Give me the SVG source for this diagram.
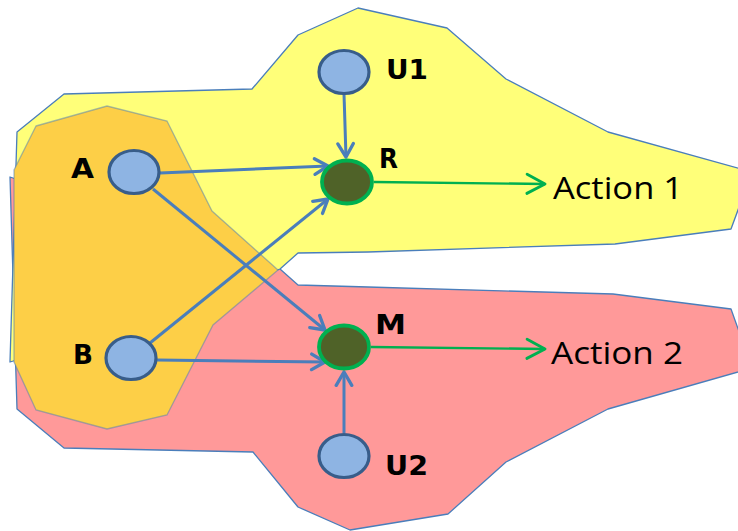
<svg xmlns="http://www.w3.org/2000/svg" width="738" height="531" viewBox="0 0 738 531">
  <style>
    .region { stroke: #4A7EBB; stroke-width: 1.3; stroke-linejoin: round; }
    .var { fill: #8EB4E3; stroke: #385D8A; stroke-width: 3.2; }
    .unit { fill: #4F6228; stroke: #00B050; stroke-width: 3.8; }
    .edge { stroke: #4A7EBB; stroke-width: 3; fill: none; marker-end: url(#headBlue); }
    .out { stroke: #00B050; stroke-width: 2.4; fill: none; marker-end: url(#headGreen); }
    .lbl { font-family: "DejaVu Sans", "Liberation Sans", sans-serif; font-weight: bold; font-size: 26px; fill: #000; }
    .act { font-family: "Open Sans", "DejaVu Sans", sans-serif; font-size: 31px; fill: #000; }
  </style>
  <defs>
    <marker id="headBlue" markerUnits="userSpaceOnUse" markerWidth="20" markerHeight="20" viewBox="-14 -9 16 18" refX="0" refY="0" orient="auto">
      <path d="M-12,-7 L0,0 L-12,7" fill="none" stroke="#4A7EBB" stroke-width="3" stroke-linejoin="round" stroke-linecap="round"/>
    </marker>
    <marker id="headGreen" markerUnits="userSpaceOnUse" markerWidth="24" markerHeight="24" viewBox="-18 -10 20 20" refX="0" refY="0" orient="auto">
      <path d="M-15,-8 L0,0 L-15,8" fill="none" stroke="#00B050" stroke-width="2.4" stroke-linejoin="round" stroke-linecap="round"/>
    </marker>
  </defs>

  <!-- background regions -->
  <g id="regions">
    <polygon id="region-red" class="region" fill="#FF9999" points="17,409 64,448 253,452 298,507 350,530 448,514 506,462 608,409 752,368 731,309 613,294 368,287 298,285 280,269 10,177"/>
    <polygon id="region-yellow" class="region" fill="#FFFF79" points="17,132 64,94 252,89 298,35 358,8 447,28 506,79 608,132 752,172 731,229 615,244 368,252 298,253 280,269 150,320 10,362"/>
    <polygon id="region-orange" fill="#FDCF47" stroke="#4A7EBB" stroke-opacity="0.5" stroke-width="1.3" points="36,126 107,106 167,121 212,211 278,270 213,325 167,415 107,429 36,410 14,362 14,170"/>
  </g>

  <!-- connectors -->
  <g id="connectors">
    <line class="edge" x1="344" y1="94" x2="346" y2="157"/>
    <line class="edge" x1="160" y1="173" x2="328" y2="166"/>
    <line class="edge" x1="153" y1="189" x2="325" y2="330"/>
    <line class="edge" x1="150" y1="343" x2="328" y2="199"/>
    <line class="edge" x1="157" y1="360" x2="325" y2="362"/>
    <line class="edge" x1="344" y1="433" x2="344" y2="372"/>
    <line class="out" x1="374" y1="182" x2="545" y2="184"/>
    <line class="out" x1="371" y1="347" x2="545" y2="349"/>
  </g>

  <!-- nodes -->
  <g id="node-U1">
    <ellipse class="var" cx="344" cy="72" rx="25" ry="21.5"/>
    <text class="lbl" x="386" y="79" textLength="42" lengthAdjust="spacingAndGlyphs">U1</text>
  </g>
  <g id="node-R">
    <ellipse class="unit" cx="347" cy="182" rx="25" ry="21.5"/>
    <text class="lbl" x="379" y="168" textLength="19" lengthAdjust="spacingAndGlyphs">R</text>
  </g>
  <g id="node-A">
    <ellipse class="var" cx="134" cy="172" rx="25" ry="21.5"/>
    <text class="lbl" x="71" y="178" textLength="23" lengthAdjust="spacingAndGlyphs">A</text>
  </g>
  <g id="node-B">
    <ellipse class="var" cx="131" cy="358" rx="25" ry="21.5"/>
    <text class="lbl" x="73" y="364" textLength="20" lengthAdjust="spacingAndGlyphs">B</text>
  </g>
  <g id="node-M">
    <ellipse class="unit" cx="344" cy="347" rx="25" ry="21.5"/>
    <text class="lbl" x="375" y="334" textLength="31" lengthAdjust="spacingAndGlyphs">M</text>
  </g>
  <g id="node-U2">
    <ellipse class="var" cx="344" cy="456" rx="25" ry="21.5"/>
    <text class="lbl" x="385" y="475" textLength="43" lengthAdjust="spacingAndGlyphs">U2</text>
  </g>
  <g id="node-action1">
    <text class="act" x="553" y="199" textLength="130" lengthAdjust="spacingAndGlyphs">Action 1</text>
  </g>
  <g id="node-action2">
    <text class="act" x="551" y="364" textLength="132" lengthAdjust="spacingAndGlyphs">Action 2</text>
  </g>
</svg>
